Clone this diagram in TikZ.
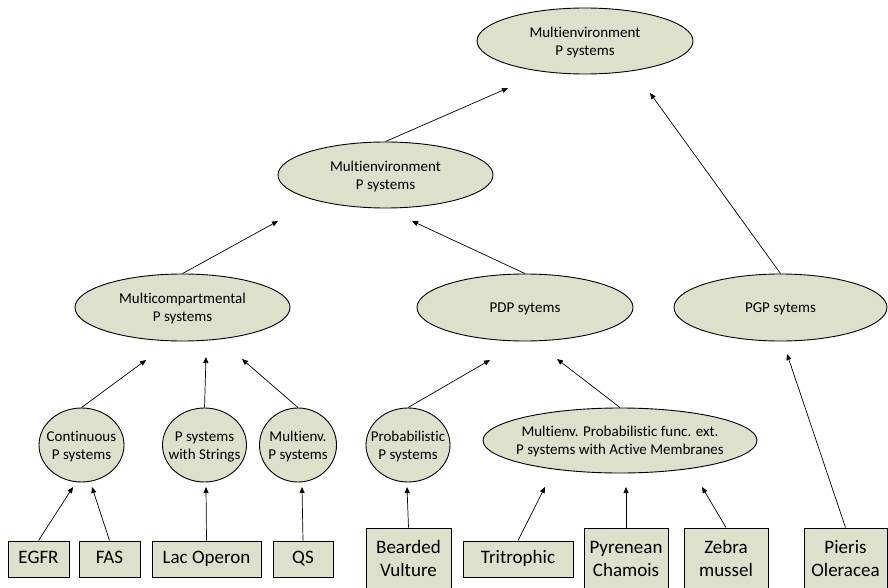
\documentclass[tikz,border=0pt]{standalone}
\usepackage{fontspec}
\setmainfont{Carlito}[RawFeature={-liga;-clig}]
\usetikzlibrary{shapes.geometric,arrows.meta}
\definecolor{olivefill}{RGB}{221,224,203}
\newcommand{\ctext}[1]{\makebox[0pt][c]{\raisebox{-5.3pt}[0pt][0pt]{\begin{tabular}{@{}c@{}}#1\end{tabular}}}}
\newcommand{\btext}[1]{\makebox[0pt][c]{\begin{tabular}{@{}c@{}}#1\end{tabular}}}
\begin{document}
\begin{tikzpicture}[x=1pt,y=-1pt,
  ell/.style={ellipse, draw=black, line width=0.9pt, fill=olivefill, inner sep=0pt,
    font=\fontsize{15}{17.7}\selectfont},
  boxnode/.style={rectangle, draw=black, line width=0.9pt, fill=olivefill, inner sep=0pt,
    font=\fontsize{19}{23}\selectfont},
  arr/.style={-{Triangle[length=6pt,width=5pt]}, line width=0.7pt}]
\useasboundingbox (0,0) rectangle (888,588);
% ellipses
\node[ell, minimum width=216pt, minimum height=66pt] (top) at (585,41) {\ctext{Multienvironment\\P systems}};
\node[ell, minimum width=215pt, minimum height=66pt] (mid) at (385.5,175) {\ctext{Multienvironment\\P systems}};
\node[ell, minimum width=215pt, minimum height=67pt] (mc) at (182.5,307.5) {\ctext{Multicompartmental\\P systems}};
\node[ell, minimum width=216pt, minimum height=67pt] (pdp) at (525,307.5) {\ctext{PDP sytems}};
\node[ell, minimum width=213pt, minimum height=67pt] (pgp) at (780.5,307.5) {\ctext{PGP sytems}};
\node[ell, minimum width=85pt, minimum height=74pt] (cont) at (81.5,445) {\ctext{Continuous\\P systems}};
\node[ell, minimum width=84pt, minimum height=74pt] (str) at (204.5,445) {\ctext{P systems\\with Strings}};
\node[ell, minimum width=77pt, minimum height=74pt] (menv) at (298,445) {\ctext{Multienv.\\P systems}};
\node[ell, minimum width=84pt, minimum height=74pt] (prob) at (408,445) {\ctext{Probabilistic\\P systems}};
\node[ell, minimum width=274pt, minimum height=65pt] (mprob) at (620,440.5) {\ctext{Multienv. Probabilistic func. ext.\\P systems with Active Membranes}};
% boxes
\node[boxnode, minimum width=61pt, minimum height=36pt] (egfr) at (38.5,559) {\btext{EGFR}};
\node[boxnode, minimum width=61pt, minimum height=36pt] (fas) at (109.5,559) {\btext{FAS}};
\node[boxnode, minimum width=109pt, minimum height=36pt] (lac) at (206.5,559) {\btext{Lac Operon}};
\node[boxnode, minimum width=60pt, minimum height=36pt] (qs) at (303,559) {\btext{QS}};
\node[boxnode, minimum width=85pt, minimum height=64pt] (bv) at (408.5,560) {\btext{Bearded\\Vulture}};
\node[boxnode, minimum width=110pt, minimum height=36pt] (tri) at (518,559) {\btext{Tritrophic}};
\node[boxnode, minimum width=84pt, minimum height=64pt] (pyr) at (626,560) {\btext{Pyrenean\\Chamois}};
\node[boxnode, minimum width=84pt, minimum height=64pt] (zeb) at (726,560) {\btext{Zebra\\mussel}};
\node[boxnode, minimum width=83pt, minimum height=64pt] (pie) at (845.5,560) {\btext{Pieris\\Oleracea}};
% arrow tips
\coordinate (t1) at (508,88);
\coordinate (t2) at (650,93);
\coordinate (m1) at (278,221);
\coordinate (m2) at (412,221);
\coordinate (c1) at (146,360);
\coordinate (c2) at (206,357);
\coordinate (c3) at (242,359);
\coordinate (p1) at (490,360);
\coordinate (p2) at (557,359);
\coordinate (g1) at (787,354);
\coordinate (e1) at (73,487);
\coordinate (e2) at (92,487);
\coordinate (e3) at (206,487);
\coordinate (e4) at (302,487);
\coordinate (e5) at (407,487);
\coordinate (e6) at (545,487);
\coordinate (e7) at (626,487);
\coordinate (e8) at (702,487);
% connectors
\draw[arr] (mid.north) -- (t1);
\draw[arr] (pgp.north) -- (t2);
\draw[arr] (mc.north) -- (m1);
\draw[arr] (pdp.north) -- (m2);
\draw[arr] (cont.north) -- (c1);
\draw[arr] (str.north) -- (c2);
\draw[arr] (menv.north) -- (c3);
\draw[arr] (prob.north) -- (p1);
\draw[arr] (mprob.north) -- (p2);
\draw[arr] (pie.north) -- (g1);
\draw[arr] (egfr.north) -- (e1);
\draw[arr] (fas.north) -- (e2);
\draw[arr] (lac.north) -- (e3);
\draw[arr] (qs.north) -- (e4);
\draw[arr] (bv.north) -- (e5);
\draw[arr] (tri.north) -- (e6);
\draw[arr] (pyr.north) -- (e7);
\draw[arr] (zeb.north) -- (e8);
\end{tikzpicture}
\end{document}
